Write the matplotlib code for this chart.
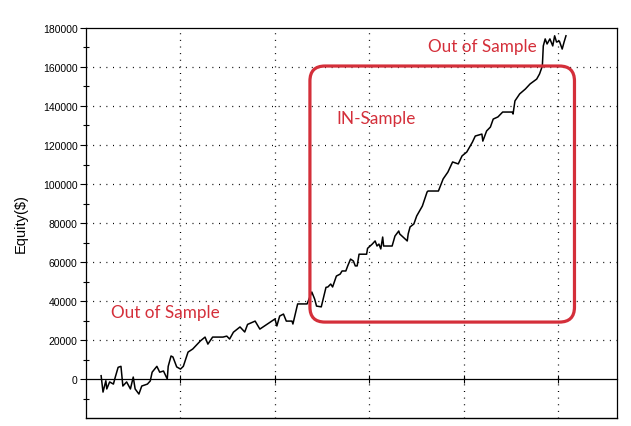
import matplotlib
matplotlib.use('Agg')
import matplotlib.pyplot as plt
from matplotlib.patches import FancyBboxPatch
from matplotlib.transforms import IdentityTransform

# equity curve (trade number, equity in $)
trade = [16, 18, 21, 22, 25, 29, 31, 34, 37, 39, 43, 47, 50, 52, 56, 59, 65, 68, 70, 75,
         78, 82, 86, 87, 90, 92, 96, 100, 103, 108, 113, 121, 126, 129, 134, 145, 149, 152, 156, 163,
         168, 171, 179, 184, 192, 200, 202, 205, 209, 212, 218, 219, 221, 224, 234, 239, 242, 244, 249, 251,
         254, 256, 259, 261, 265, 269, 271, 275, 277, 280, 283, 285, 287, 289, 297, 298, 303, 306, 308, 310,
         312, 314, 315, 324, 327, 331, 332, 340, 341, 343, 347, 350, 356, 361, 362, 373, 378, 383, 388, 394,
         398, 403, 409, 412, 419, 420, 424, 428, 431, 436, 441, 451, 452, 454, 459, 465, 470, 477, 480, 483,
         484, 486, 488, 491, 494, 496, 498, 501, 504, 506, 508]
equity = [1700, -6700, -900, -5100, -1500, -2600, 1000, 6000, 6500, -3600, -1500, -5100, 1000, -5100, -7700, -3600, -2600, -1000, 3500, 6500,
          3500, 4100, 0, 6500, 11800, 11300, 6200, 5100, 6500, 13800, 15400, 19500, 21500, 17900, 21500, 21500, 22000, 20500, 24000, 26700,
          24100, 28000, 29700, 25600, 28200, 30800, 27200, 32300, 33300, 29700, 29700, 28200, 32300, 38500, 38500, 44600, 41000, 37400, 37000, 41000,
          47000, 47200, 48700, 47200, 52800, 53800, 55400, 55400, 58000, 61500, 60500, 58000, 58000, 64000, 64000, 67000, 69200, 70800, 68200, 69200,
          66700, 72800, 68200, 68200, 73300, 75900, 74400, 70800, 74400, 78000, 79500, 83600, 88700, 95900, 96400, 96400, 102600, 106100, 111300, 110300,
          114400, 116400, 121500, 124600, 125600, 122000, 127200, 129200, 133300, 134400, 136900, 136900, 135900, 142600, 146200, 148700, 151300, 153800, 156400, 160500,
          170800, 174400, 171800, 174400, 170800, 176000, 172800, 173300, 169200, 172800, 176000]

x_grid = [100, 200, 300, 400, 500]
y_major = list(range(0, 180001, 20000))
y_minor = list(range(-10000, 180000, 20000))

# in-sample window (trade range, equity range)
in_x = (237, 517)
in_y = (29200, 160500)

red = '#d42f3a'

fig = plt.figure(figsize=(6.31, 4.27), dpi=100)
ax = fig.add_axes([0.1363, 0.0187, 0.8415, 0.9134])

ax.plot(trade, equity, color='black', lw=1.1, zorder=3)

ax.set_xlim(0, 562)
ax.set_ylim(-20000, 180000)

ax.set_yticks(y_major)
ax.set_yticks(y_minor, minor=True)
ax.set_yticklabels([str(v) for v in y_major], fontsize=7.5, family='Liberation Sans')
ax.tick_params(axis='y', which='major', direction='out', length=4, width=0.8, pad=2)
ax.tick_params(axis='y', which='minor', direction='inout', length=4, width=0.8)

# x ticks sit on the zero line, no labels
ax.set_xticks(x_grid)
ax.spines['bottom'].set_position(('data', 0))
ax.tick_params(axis='x', which='major', direction='inout', length=6, width=0.8, labelbottom=False)
ax.axhline(-20000, color='black', lw=1.0, clip_on=False)

for s in ax.spines.values():
    s.set_linewidth(0.9)

# dotted grid
for gx in x_grid:
    ax.axvline(gx, color='black', lw=0.9, ls=(0, (0.8, 4.5)), zorder=1)
for gy in y_major[1:-1]:
    ax.axhline(gy, color='black', lw=0.9, ls=(0, (0.8, 4.5)), zorder=1)

ax.set_ylabel('Equity($)', fontsize=10.5, family='Liberation Sans')
ax.yaxis.set_label_coords(-0.109, 0.5)

tfont = dict(family='Lato', fontsize=12.3, color=red, ha='center', va='center')
ax.text(84, 34400, 'Out of Sample', **tfont)
ax.text(307, 133800, 'IN-Sample', **tfont)
ax.text(419, 170800, 'Out of Sample', **tfont)

# rounded box drawn in pixel space so the corners stay round
(x0, y0) = ax.transData.transform((in_x[0], in_y[0]))
(x1, y1) = ax.transData.transform((in_x[1], in_y[1]))
box = FancyBboxPatch((x0, y0), x1 - x0, y1 - y0,
                     boxstyle='round,pad=0,rounding_size=15',
                     transform=IdentityTransform(), fill=False,
                     edgecolor=red, lw=2.3, zorder=5)
fig.add_artist(box)

fig.savefig('out.png', dpi=100)
